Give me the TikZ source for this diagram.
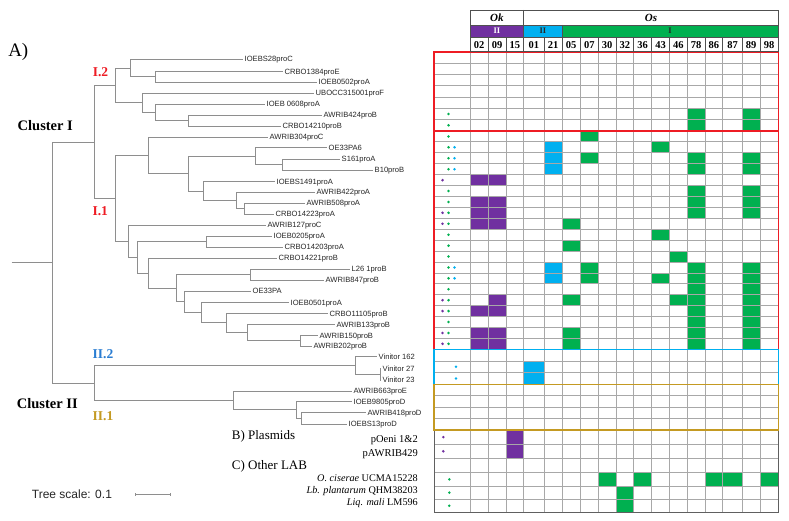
\documentclass[tikz,border=0pt]{standalone}
\usepackage{fontspec}
\setmainfont{Liberation Serif}
\newfontfamily\leaffont{Liberation Sans}
\definecolor{cpurple}{HTML}{7030A0}
\definecolor{cblue}{HTML}{00B0F0}
\definecolor{cgreen}{HTML}{00B050}
\definecolor{cred}{HTML}{EE1C24}
\definecolor{cgold}{HTML}{C49A22}
\definecolor{clblue}{HTML}{2A7DD2}
\definecolor{cgrid}{HTML}{A8A8A8}
\definecolor{ctree}{HTML}{8E8E8E}
\definecolor{chdr}{HTML}{505050}
\begin{document}
\begin{tikzpicture}[x=1pt,y=-1pt,
  branch/.style={draw=ctree,line width=0.9pt},
  leaf/.style={anchor=west,inner sep=1.5pt,text height=5.4pt,text depth=0pt,font=\leaffont\fontsize{7.6}{8}\selectfont,text=black!85},
  gridline/.style={draw=cgrid,line width=0.8pt},
  hdrline/.style={draw=chdr,line width=0.7pt},
  colnum/.style={inner sep=0pt,font=\bfseries\fontsize{10.5}{10.5}\selectfont},
  grp/.style={inner sep=0pt,font=\bfseries\fontsize{8.5}{9}\selectfont},
  clus/.style={inner sep=0pt,font=\bfseries\fontsize{14.5}{15}\selectfont},
  sub/.style={inner sep=0pt,font=\bfseries\fontsize{13.5}{14}\selectfont},
  sect/.style={inner sep=0pt,anchor=west,font=\fontsize{13}{14}\selectfont},
  extra/.style={inner sep=0pt,anchor=east,font=\fontsize{10.5}{11}\selectfont}
]
\useasboundingbox (0,0) rectangle (789,521);
\fill[white] (0,0) rectangle (789,521);

\def\Ylist{{52.0,63.3,74.6,85.9,97.1,108.4,119.7,131.0,141.9,152.8,163.7,174.7,185.6,196.5,207.4,218.3,229.2,240.2,251.1,262.0,272.9,283.8,294.7,305.6,316.6,327.5,338.4,349.3,361.0,372.6,384.3,395.7,407.1,418.6,430.0,444.3,458.3,472.7,486.0,499.2,512.3}}
\def\Xlist{{434,470,488.3,506,523.7,544,562,580.3,598.3,616,633.7,651.7,669.3,687.3,705,722.7,742.3,760,778.3}}

% ---------- tree ----------
\coordinate (R0) at (11.7,262.7);
\coordinate (R) at (52.3,262.7);
\coordinate (CI) at (94,142);
\coordinate (CII) at (94,383.3);
\coordinate (I2) at (115,85.4);
\coordinate (I1) at (115,198.5);
\coordinate (na) at (130,68.1);
\coordinate (nb) at (155,76.8);
\coordinate (nc) at (142,102.7);
\coordinate (nd) at (155,112.4);
\coordinate (ne) at (188,120.5);
\coordinate (nf) at (148.7,155.5);
\coordinate (ng) at (188.7,173.6);
\coordinate (nh) at (255,156.1);
\coordinate (nj) at (282.7,164.5);
\coordinate (ni) at (203,191.1);
\coordinate (nk) at (236,200.5);
\coordinate (nl) at (244.3,208.7);
\coordinate (nm) at (128,241.4);
\coordinate (nn) at (137.7,257.5);
\coordinate (no) at (206,241.7);
\coordinate (np) at (148.3,273.3);
\coordinate (nq) at (176.7,288.3);
\coordinate (nr) at (250.7,274.7);
\coordinate (ns) at (184.3,301.8);
\coordinate (nt) at (201,312.6);
\coordinate (nu) at (226.7,322.9);
\coordinate (nv) at (247.7,332.5);
\coordinate (nw) at (300,340.7);
\coordinate (IIb) at (355,365.8);
\coordinate (nx) at (380,374.2);
\coordinate (IIa) at (233.3,400.8);
\coordinate (ny) at (296.7,409.9);
\coordinate (nz) at (301.7,418.4);

\node[leaf] (L1) at (243,59.3) {IOEBS28proC};
\node[leaf] (L2) at (283,71.7) {CRBO1384proE};
\node[leaf] (L3) at (317,82) {IOEB0502proA};
\node[leaf] (L4) at (314,93) {UBOCC315001proF};
\node[leaf] (L5) at (265,104.3) {IOEB 0608proA};
\node[leaf] (L6) at (322,115) {AWRIB424proB};
\node[leaf] (L7) at (281,126) {CRBO14210proB};
\node[leaf] (L8) at (268,137.3) {AWRIB304proC};
\node[leaf] (L9) at (327,147.7) {OE33PA6};
\node[leaf] (L10) at (340,159) {S161proA};
\node[leaf] (L11) at (373,170) {B10proB};
\node[leaf] (L12) at (275,181.7) {IOEBS1491proA};
\node[leaf] (L13) at (315,192.3) {AWRIB422proA};
\node[leaf] (L14) at (305,203.3) {AWRIB508proA};
\node[leaf] (L15) at (274,214) {CRBO14223proA};
\node[leaf] (L16) at (266,225.3) {AWRIB127proC};
\node[leaf] (L17) at (272,236) {IOEB0205proA};
\node[leaf] (L18) at (283,247.3) {CRBO14203proA};
\node[leaf] (L19) at (277,258.3) {CRBO14221proB};
\node[leaf] (L20) at (350,269.3) {L26 1proB};
\node[leaf] (L21) at (324,280) {AWRIB847proB};
\node[leaf] (L22) at (251,291) {OE33PA};
\node[leaf] (L23) at (289,302.3) {IOEB0501proA};
\node[leaf] (L24) at (328,313.3) {CRBO11105proB};
\node[leaf] (L25) at (335,324.3) {AWRIB133proB};
\node[leaf] (L26) at (318,335.3) {AWRIB150proB};
\node[leaf] (L27) at (312,346) {AWRIB202proB};
\node[leaf] (L28) at (377,356.7) {Vinitor 162};
\node[leaf] (L29) at (381,368.3) {Vinitor 27};
\node[leaf] (L30) at (381,380) {Vinitor 23};
\node[leaf] (L31) at (352,391) {AWRIB663proE};
\node[leaf] (L32) at (352,401.7) {IOEB9805proD};
\node[leaf] (L33) at (366,412.7) {AWRIB418proD};
\node[leaf] (L34) at (347,424) {IOEBS13proD};

\draw[branch] (R0) -- (R);
\draw[branch] (R) |- (CI);  \draw[branch] (R) |- (CII);
\draw[branch] (CI) |- (I2); \draw[branch] (CI) |- (I1);
\draw[branch] (I2) |- (na); \draw[branch] (I2) |- (nc);
\draw[branch] (na) |- (L1.west); \draw[branch] (na) |- (nb);
\draw[branch] (nb) |- (L2.west); \draw[branch] (nb) |- (L3.west);
\draw[branch] (nc) |- (L4.west); \draw[branch] (nc) |- (nd);
\draw[branch] (nd) |- (L5.west); \draw[branch] (nd) |- (ne);
\draw[branch] (ne) |- (L6.west); \draw[branch] (ne) |- (L7.west);
\draw[branch] (I1) |- (nf); \draw[branch] (I1) |- (nm);
\draw[branch] (nf) |- (L8.west); \draw[branch] (nf) |- (ng);
\draw[branch] (ng) |- (nh); \draw[branch] (ng) |- (ni);
\draw[branch] (nh) |- (L9.west); \draw[branch] (nh) |- (nj);
\draw[branch] (nj) |- (L10.west); \draw[branch] (nj) |- (L11.west);
\draw[branch] (ni) |- (L12.west); \draw[branch] (ni) |- (nk);
\draw[branch] (nk) |- (L13.west); \draw[branch] (nk) |- (nl);
\draw[branch] (nl) |- (L14.west); \draw[branch] (nl) |- (L15.west);
\draw[branch] (nm) |- (L16.west); \draw[branch] (nm) |- (nn);
\draw[branch] (nn) |- (no); \draw[branch] (nn) |- (np);
\draw[branch] (no) |- (L17.west); \draw[branch] (no) |- (L18.west);
\draw[branch] (np) |- (L19.west); \draw[branch] (np) |- (nq);
\draw[branch] (nq) |- (nr); \draw[branch] (nq) |- (ns);
\draw[branch] (nr) |- (L20.west); \draw[branch] (nr) |- (L21.west);
\draw[branch] (ns) |- (L22.west); \draw[branch] (ns) |- (nt);
\draw[branch] (nt) |- (L23.west); \draw[branch] (nt) |- (nu);
\draw[branch] (nu) |- (L24.west); \draw[branch] (nu) |- (nv);
\draw[branch] (nv) |- (L25.west); \draw[branch] (nv) |- (nw);
\draw[branch] (nw) |- (L26.west); \draw[branch] (nw) |- (L27.west);
\draw[branch] (CII) |- (IIb); \draw[branch] (CII) |- (IIa);
\draw[branch] (IIb) |- (L28.west); \draw[branch] (IIb) |- (nx);
\draw[branch] (nx) |- (L29.west); \draw[branch] (nx) |- (L30.west);
\draw[branch] (IIa) |- (L31.west); \draw[branch] (IIa) |- (ny);
\draw[branch] (ny) |- (L32.west); \draw[branch] (ny) |- (nz);
\draw[branch] (nz) |- (L33.west); \draw[branch] (nz) |- (L34.west);

% ---------- left labels ----------
\node[inner sep=0pt,font=\fontsize{19}{20}\selectfont] (lA) at (18.3,51.7) {A)};
\node[clus] (lc1) at (45.3,125.7) {Cluster I};
\node[clus] (lc2) at (47.3,403.3) {Cluster II};
\node[sub,text=cred] (l12) at (100.5,72.3) {I.2};
\node[sub,text=cred] (l11) at (100.2,210.7) {I.1};
\node[sub,text=clblue] (l22) at (103,354.3) {II.2};
\node[sub,text=cgold] (l21) at (103,416) {II.1};
\node[sect] (lB) at (231.7,436.7) {B) Plasmids};
\node[sect] (lC) at (231.7,466) {C) Other LAB};
\node[extra] (p1) at (418,440) {pOeni 1\&2};
\node[extra] (p2) at (418,454) {pAWRIB429};
\node[extra,font=\fontsize{10.2}{11}\selectfont] (o1) at (418,478.3) {\textit{O. ciserae} UCMA15228};
\node[extra,font=\fontsize{10.2}{11}\selectfont] (o2) at (418,491) {\textit{Lb. plantarum} QHM38203};
\node[extra,font=\fontsize{10.2}{11}\selectfont] (o3) at (418,503.3) {\textit{Liq. mali} LM596};
\node[inner sep=0pt,anchor=west,font=\leaffont\fontsize{12}{13}\selectfont,text=black!85] (ts) at (31.7,494) {Tree scale: 0.1};
\coordinate (sbA) at (135,494);
\coordinate (sbB) at (170.7,494);
\draw[draw=ctree,line width=0.8pt] (sbA) -- (sbB);
\draw[draw=ctree,line width=0.8pt] ([yshift=-1.5pt]sbA) -- ([yshift=1.5pt]sbA);
\draw[draw=ctree,line width=0.8pt] ([yshift=-1.5pt]sbB) -- ([yshift=1.5pt]sbB);

% ---------- table cells ----------
\foreach \r/\c/\col in {
 6/13/cgreen,6/16/cgreen,7/13/cgreen,7/16/cgreen,
 8/7/cgreen,
 9/5/cblue,9/11/cgreen,
 10/5/cblue,10/7/cgreen,10/13/cgreen,10/16/cgreen,
 11/5/cblue,11/13/cgreen,11/16/cgreen,
 12/1/cpurple,12/2/cpurple,
 13/13/cgreen,13/16/cgreen,
 14/1/cpurple,14/2/cpurple,14/13/cgreen,14/16/cgreen,
 15/1/cpurple,15/2/cpurple,15/13/cgreen,15/16/cgreen,
 16/1/cpurple,16/2/cpurple,16/6/cgreen,
 17/11/cgreen,
 18/6/cgreen,
 19/12/cgreen,
 20/5/cblue,20/7/cgreen,20/13/cgreen,20/16/cgreen,
 21/5/cblue,21/7/cgreen,21/11/cgreen,21/13/cgreen,21/16/cgreen,
 22/13/cgreen,22/16/cgreen,
 23/2/cpurple,23/6/cgreen,23/12/cgreen,23/13/cgreen,23/16/cgreen,
 24/1/cpurple,24/2/cpurple,24/13/cgreen,24/16/cgreen,
 25/13/cgreen,25/16/cgreen,
 26/1/cpurple,26/2/cpurple,26/6/cgreen,26/13/cgreen,26/16/cgreen,
 27/1/cpurple,27/2/cpurple,27/6/cgreen,27/13/cgreen,27/16/cgreen,
 29/4/cblue,30/4/cblue,
 35/3/cpurple,36/3/cpurple,
 38/8/cgreen,38/10/cgreen,38/14/cgreen,38/15/cgreen,38/17/cgreen,
 39/9/cgreen,40/9/cgreen}{
  \pgfmathtruncatemacro\rp{\r-1}
  \pgfmathtruncatemacro\cn{\c+1}
  \pgfmathsetmacro\ya{\Ylist[\rp]}
  \pgfmathsetmacro\yb{\Ylist[\r]}
  \pgfmathsetmacro\xa{\Xlist[\c]}
  \pgfmathsetmacro\xb{\Xlist[\cn]}
  \fill[\col] (\xa,\ya) rectangle (\xb,\yb);
}

% grid
\foreach \i in {0,...,40}{
  \pgfmathsetmacro\yy{\Ylist[\i]}
  \draw[gridline] (434,\yy) -- (778.3,\yy);
}
\foreach \j in {0,...,18}{
  \pgfmathsetmacro\xx{\Xlist[\j]}
  \draw[gridline] (\xx,52) -- (\xx,512.3);
}
\draw[draw=gray!75!black,line width=0.9pt] (434,430) -- (434,512.3) -- (778.3,512.3) -- (778.3,430);

% dots
\foreach \r/\xp/\col in {
 6/448.5/cgreen,7/448.5/cgreen,8/448.5/cgreen,
 9/448.5/cgreen,9/454.5/cblue,10/448.5/cgreen,10/454.5/cblue,11/448.5/cgreen,11/454.5/cblue,
 12/442.5/cpurple,13/448.5/cgreen,14/448.5/cgreen,
 15/442.5/cpurple,15/448.5/cgreen,16/442.5/cpurple,16/448.5/cgreen,
 17/448.5/cgreen,18/448.5/cgreen,19/448.5/cgreen,
 20/448.5/cgreen,20/454.5/cblue,21/448.5/cgreen,21/454.5/cblue,
 22/448.5/cgreen,23/442.5/cpurple,23/448.5/cgreen,24/442.5/cpurple,24/448.5/cgreen,
 25/448.5/cgreen,26/442.5/cpurple,26/448.5/cgreen,27/442.5/cpurple,27/448.5/cgreen,
 29/456/cblue,30/456/cblue,35/443.3/cpurple,36/443.3/cpurple,
 38/449.3/cgreen,39/449.3/cgreen,40/449.3/cgreen}{
  \pgfmathtruncatemacro\rp{\r-1}
  \pgfmathsetmacro\ya{\Ylist[\rp]}
  \pgfmathsetmacro\yb{\Ylist[\r]}
  \pgfmathsetmacro\yc{(\ya+\yb)/2}
  \fill[\col] (\xp,\yc) circle[radius=1.4pt];
}

% coloured section boxes
\draw[cred,line width=1.5pt] (434,52) rectangle (778.3,131);
\draw[cred,line width=1.5pt] (434,131) rectangle (778.3,349.3);
\draw[cblue,line width=1.5pt] (434,349.3) rectangle (778.3,384.3);
\draw[cgold,line width=1.5pt] (434,384.3) rectangle (778.3,430);

% ---------- header ----------
\fill[cpurple] (470,25) rectangle (523.7,37.3);
\fill[cblue] (523.7,25) rectangle (562,37.3);
\fill[cgreen] (562,25) rectangle (778.3,37.3);
\draw[hdrline] (470,10) rectangle (778.3,51.7);
\draw[hdrline] (523.7,10) -- (523.7,37.3);
\draw[hdrline] (562,25) -- (562,37.3);
\draw[hdrline] (470,25) -- (778.3,25);
\draw[hdrline] (470,37.3) -- (778.3,37.3);
\foreach \j in {2,...,17}{
  \pgfmathsetmacro\xx{\Xlist[\j]}
  \draw[hdrline] (\xx,37.3) -- (\xx,51.7);
}
\node[inner sep=0pt,font=\bfseries\itshape\fontsize{11}{11}\selectfont] (hOk) at (496.8,17.5) {Ok};
\node[inner sep=0pt,font=\bfseries\itshape\fontsize{11}{11}\selectfont] (hOs) at (651,17.5) {Os};
\node[grp,text=white] (gP) at (496.8,31.2) {II};
\node[grp,text=black!85] (gB) at (542.8,31.2) {II};
\node[grp,text=black!85] (gG) at (670.1,31.2) {I};
\foreach \c/\t in {1/02,2/09,3/15,4/01,5/21,6/05,7/07,8/30,9/32,10/36,11/43,12/46,13/78,14/86,15/87,16/89,17/98}{
  \pgfmathtruncatemacro\cn{\c+1}
  \pgfmathsetmacro\xa{\Xlist[\c]}
  \pgfmathsetmacro\xb{\Xlist[\cn]}
  \pgfmathsetmacro\xm{(\xa+\xb)/2}
  \node[colnum] (n\c) at (\xm,44.8) {\t};
}
\end{tikzpicture}
\end{document}
